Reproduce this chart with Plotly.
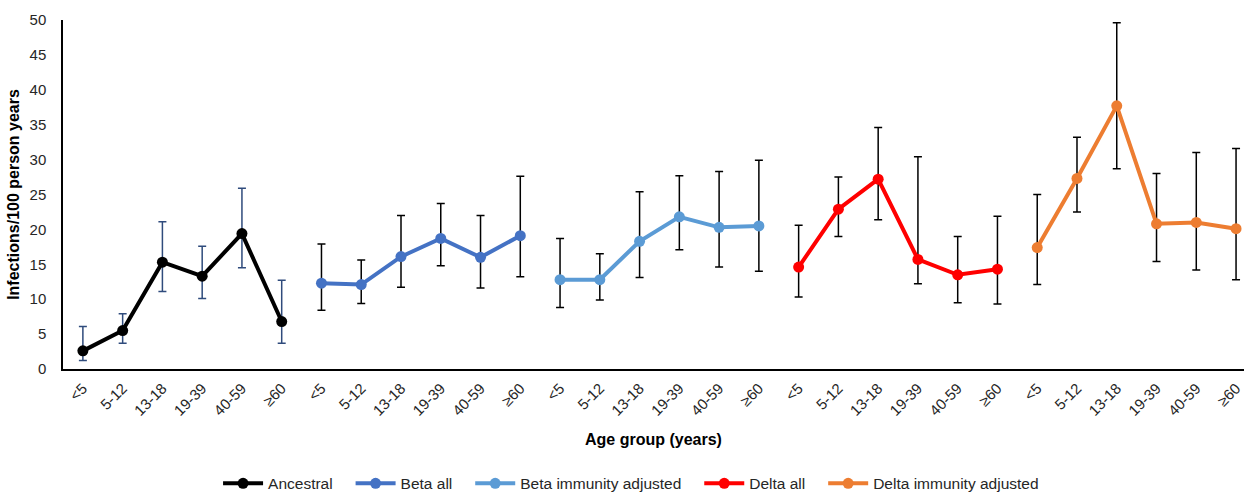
import plotly.graph_objects as go

# Age groups repeated for each variant panel
age_groups = ["<5", "5-12", "13-18", "19-39", "40-59", "≥60"]
series_names = ["Ancestral", "Beta all", "Beta immunity adjusted", "Delta all", "Delta immunity adjusted"]
series_colors = ["#000000", "#4472C4", "#5B9BD5", "#FF0000", "#ED7D31"]
error_colors = ["#2F4B7C", "#000000", "#000000", "#000000", "#000000"]

# Incidence (infections per 100 person years) and 95% CI bounds
ancestral = [2.6, 5.5, 15.3, 13.3, 19.4, 6.8]
ancestral_lo = [1.2, 3.7, 11.1, 10.1, 14.5, 3.7]
ancestral_hi = [6.1, 7.9, 21.1, 17.6, 25.9, 12.7]

beta_all = [12.3, 12.1, 16.1, 18.7, 16.0, 19.1]
beta_all_lo = [8.4, 9.4, 11.7, 14.8, 11.6, 13.2]
beta_all_hi = [17.9, 15.6, 22.0, 23.7, 22.0, 27.6]

beta_adj = [12.8, 12.8, 18.3, 21.8, 20.3, 20.5]
beta_adj_lo = [8.8, 9.9, 13.1, 17.1, 14.6, 14.0]
beta_adj_hi = [18.7, 16.5, 25.4, 27.7, 28.3, 29.9]

delta_all = [14.6, 22.9, 27.2, 15.7, 13.5, 14.3]
delta_all_lo = [10.3, 19.0, 21.4, 12.2, 9.5, 9.3]
delta_all_hi = [20.6, 27.5, 34.6, 30.4, 19.0, 21.9]

delta_adj = [17.4, 27.3, 37.7, 20.8, 21.0, 20.1]
delta_adj_lo = [12.1, 22.5, 28.7, 15.4, 14.2, 12.8]
delta_adj_hi = [25.0, 33.2, 49.6, 28.0, 31.0, 31.6]

values = [ancestral, beta_all, beta_adj, delta_all, delta_adj]
lows = [ancestral_lo, beta_all_lo, beta_adj_lo, delta_all_lo, delta_adj_lo]
highs = [ancestral_hi, beta_all_hi, beta_adj_hi, delta_all_hi, delta_adj_hi]

FONT = "Liberation Sans, Arial, sans-serif"
TEXT = "#262626"
n = len(age_groups)
pad = "\u00a0" * 3  # extra spacing between legend entries

fig = go.Figure()
for i, name in enumerate(series_names):
    xs = [i * n + j for j in range(n)]
    v = values[i]
    fig.add_trace(go.Scatter(
        x=xs, y=v, name=name + (pad if i < len(series_names) - 1 else ""),
        mode="lines+markers",
        line=dict(color=series_colors[i], width=4),
        marker=dict(color=series_colors[i], size=11),
        error_y=dict(
            type="data", symmetric=False,
            array=[h - y for h, y in zip(highs[i], v)],
            arrayminus=[y - l for l, y in zip(lows[i], v)],
            color=error_colors[i], thickness=1.5, width=4,
        ),
    ))

tick_positions = list(range(n * len(series_names)))
tick_text = age_groups * len(series_names)

fig.update_layout(
    width=1244, height=493,
    margin=dict(l=63, r=0, t=20, b=124, autoexpand=False),
    paper_bgcolor="white", plot_bgcolor="white",
    font=dict(family=FONT, color=TEXT),
    showlegend=True,
    legend=dict(
        orientation="h", x=0.481, xanchor="center",
        yref="paper", y=-0.28, yanchor="top",
        font=dict(size=15.5, family=FONT, color=TEXT),
        itemwidth=40, tracegroupgap=0,
    ),
    xaxis=dict(
        range=[-0.5, 29.2],
        tickmode="array", tickvals=tick_positions, ticktext=tick_text,
        tickangle=-45, tickfont=dict(size=15, family=FONT, color=TEXT),
        showline=True, linecolor="#000000", linewidth=1.5,
        showgrid=False, zeroline=False, ticks="",
        ticklabelstandoff=3,
        title=dict(text="<b>Age group (years)</b>", font=dict(size=16, family=FONT, color="#000000"), standoff=16),
    ),
    yaxis=dict(
        range=[0, 50], tickmode="linear", tick0=0, dtick=5,
        tickfont=dict(size=15, family=FONT, color=TEXT),
        showline=True, linecolor="#000000", linewidth=1.5,
        showgrid=False, zeroline=False, ticks="",
        ticklabelstandoff=12,
        title=dict(text="<b>Infections/100 person years</b>", font=dict(size=16, family=FONT, color="#000000"), standoff=6),
    ),
)

fig.write_html("out.html")
